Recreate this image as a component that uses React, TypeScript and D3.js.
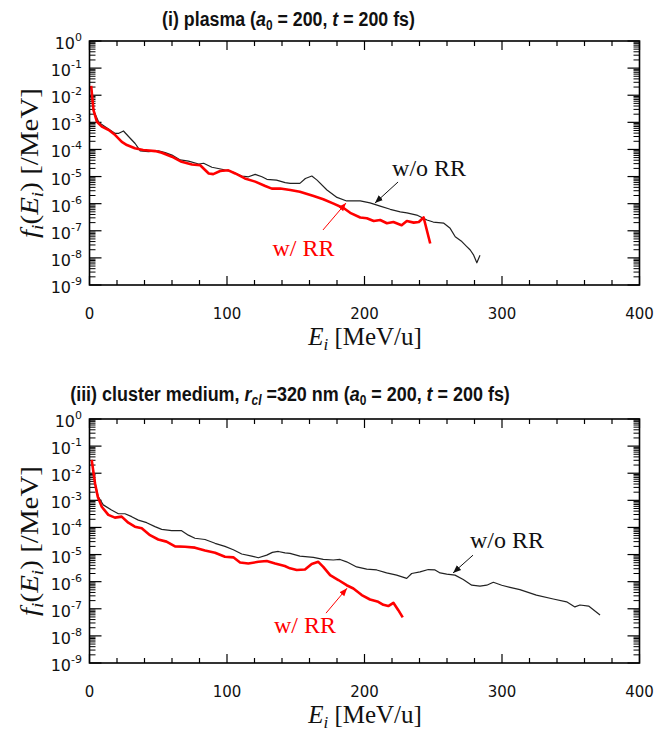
import React, { useLayoutEffect, useRef, useState } from 'react';
import * as d3 from 'd3';

// ---------- data ----------
const xTickValues = [0, 100, 200, 300, 400];
const xMinorStep = 20;
const yExponents = [0, -1, -2, -3, -4, -5, -6, -7, -8, -9];

// Panel (i) plasma
const plasmaWoRR_E = [1.2, 2.9, 6.8, 11.4, 18.7, 21, 24.7, 28.4, 33.2, 36.9, 42.9, 50.2, 55, 60, 66, 72, 79.4, 83, 89, 96.3, 103.6, 110.8, 115.6, 120.5, 125.4, 129, 136, 142.3, 146, 153, 157, 161.7, 165.5, 172.7, 180, 187, 196.9, 204, 211.4, 218.7, 226, 230.8, 238, 245.4, 250, 257.7, 262.3, 266, 270.8, 274.4, 276.9, 279.4, 281.7, 284];
const plasmaWoRR_f = [2.2e-2, 2.8e-3, 9.8e-4, 6.9e-4, 3.9e-4, 3.9e-4, 4.8e-4, 3.0e-4, 1.66e-4, 8.9e-5, 8.3e-5, 8.9e-5, 7.6e-5, 6.2e-5, 4.1e-5, 3.7e-5, 2.9e-5, 3.1e-5, 2.2e-5, 1.86e-5, 1.5e-5, 1.05e-5, 9.8e-6, 1.2e-5, 9.8e-6, 7.9e-6, 7.4e-6, 6.0e-6, 5.6e-6, 5.6e-6, 8.5e-6, 1.05e-5, 7.4e-6, 3.2e-6, 1.7e-6, 1.26e-6, 1.26e-6, 1.07e-6, 8.1e-7, 6.2e-7, 5.0e-7, 4.6e-7, 3.8e-7, 2.5e-7, 2.1e-7, 1.9e-7, 1.23e-7, 6.0e-8, 4.0e-8, 2.6e-8, 1.95e-8, 1.26e-8, 6.6e-9, 1.26e-8];
const plasmaWRR_E = [1.2, 2.9, 5.4, 9, 14, 18.7, 23.5, 27.2, 33, 39, 47.8, 52.6, 59.9, 67, 74.5, 80.5, 86.7, 90, 95, 101, 106, 113, 120.5, 127.8, 132.6, 138.7, 146, 153, 163, 170, 177.5, 185, 189.6, 196.9, 201.7, 206.7, 211.4, 216.3, 221, 227, 230.8, 235.8, 239.5, 243, 247.8];
const plasmaWRR_f = [2.2e-2, 2.8e-3, 1.05e-3, 6.9e-4, 5.2e-4, 3.4e-4, 1.9e-4, 1.45e-4, 1.1e-4, 9.5e-5, 8.7e-5, 7.6e-5, 5.4e-5, 3.5e-5, 2.8e-5, 2.6e-5, 1.3e-5, 1.23e-5, 1.6e-5, 1.7e-5, 1.3e-5, 8.5e-6, 6.5e-6, 4.5e-6, 3.6e-6, 3.6e-6, 3.2e-6, 2.75e-6, 1.9e-6, 1.45e-6, 1.0e-6, 6.8e-7, 4.6e-7, 3.1e-7, 2.9e-7, 2.3e-7, 2.5e-7, 1.9e-7, 2.1e-7, 1.6e-7, 2.3e-7, 2.0e-7, 2.1e-7, 3.1e-7, 3.4e-8];

// Panel (iii) cluster medium
const clusterWoRR_E = [1.6, 4, 6.4, 10, 16, 21, 25.8, 30.7, 35.5, 41.6, 47.6, 52.5, 59.8, 67, 71.9, 76.7, 84, 91.3, 98.5, 104.6, 110.7, 118, 122.8, 128.9, 133, 137.3, 142.2, 145.8, 153, 162.8, 170, 177.3, 182.2, 187, 194.3, 201.6, 208.9, 216.1, 223.4, 230.7, 234.3, 240.4, 246.4, 251.3, 255, 259.8, 265.8, 271.8, 278, 284, 288.9, 293.7, 299.8, 305.8, 313, 325, 337.3, 347, 353, 356.7, 363, 371.3];
const clusterWoRR_f = [3.1e-2, 4.3e-3, 1.35e-3, 6.8e-4, 4.4e-4, 3.2e-4, 3.2e-4, 2.5e-4, 1.86e-4, 1.5e-4, 1.07e-4, 8.5e-5, 7.6e-5, 7.6e-5, 5.2e-5, 4.0e-5, 3.6e-5, 2.6e-5, 2.0e-5, 1.5e-5, 1.05e-5, 8.7e-6, 7.6e-6, 9.5e-6, 1.2e-5, 1.3e-5, 1.15e-5, 1.1e-5, 8.7e-6, 7.9e-6, 6.6e-6, 6.3e-6, 6.6e-6, 5.4e-6, 3.5e-6, 2.9e-6, 2.7e-6, 2.1e-6, 1.74e-6, 1.32e-6, 2.0e-6, 2.3e-6, 2.8e-6, 2.7e-6, 2.1e-6, 1.9e-6, 1.74e-6, 1.2e-6, 7.4e-7, 6.9e-7, 7.4e-7, 9.5e-7, 7.4e-7, 6.2e-7, 5.1e-7, 3.2e-7, 2.3e-7, 1.8e-7, 1.17e-7, 1.38e-7, 1.26e-7, 5.9e-8];
const clusterWRR_E = [1.6, 4, 6, 8.9, 13.7, 18.5, 23.4, 28.2, 33, 38, 44, 50, 56, 62.2, 69.5, 76.7, 84, 91.3, 98.5, 104.6, 109.5, 115.5, 122.8, 128.9, 135, 142, 145.8, 150.7, 156.7, 161.6, 166.4, 170, 175, 181, 187, 191.9, 198, 204, 210, 213.7, 217.3, 221, 224.6, 227.8];
const clusterWRR_f = [3.1e-2, 4.3e-3, 1.35e-3, 5.8e-4, 2.9e-4, 2.3e-4, 2.5e-4, 1.5e-4, 1.07e-4, 9.3e-5, 5.2e-5, 3.6e-5, 3.0e-5, 2.0e-5, 1.95e-5, 1.8e-5, 1.4e-5, 1.17e-5, 8.3e-6, 7.9e-6, 5.1e-6, 4.7e-6, 5.4e-6, 5.8e-6, 4.7e-6, 3.8e-6, 3.1e-6, 2.7e-6, 2.8e-6, 4.5e-6, 5.4e-6, 3.5e-6, 1.74e-6, 1.15e-6, 7.4e-7, 5.6e-7, 3.2e-7, 2.2e-7, 1.8e-7, 1.4e-7, 1.26e-7, 1.66e-7, 8.9e-8, 4.8e-8];

const seriesLabels = ['w/o RR', 'w/ RR'];

// ---------- layout ----------
const WIDTH = 656;
const HEIGHT = 733;
const PLOT_LEFT = 89.5;
const PLOT_RIGHT = 639.5;
const PLOT_HEIGHT = 244;

const SANS = "'DejaVu Sans', Verdana, sans-serif";
const SERIF = "'Liberation Serif', 'Times New Roman', serif";
const TITLE_FONT = "'Liberation Sans', Arial, sans-serif";

type Ann = {
  woText: [number, number];
  woArrow: [number, number, number, number];
  wText: [number, number];
  wArrow: [number, number, number, number];
};

function FitText(props: { x: number; y: number; width: number; children: React.ReactNode; [k: string]: any }) {
  const { x, y, width, children, ...rest } = props;
  const ref = useRef<SVGTextElement>(null);
  const [s, setS] = useState(1);
  useLayoutEffect(() => {
    if (ref.current) {
      const w = ref.current.getBBox().width;
      if (w > 0) setS(width / w);
    }
  }, [width]);
  return (
    <g transform={`translate(${x},${y}) scale(${s},1)`}>
      <text ref={ref} x={0} y={0} textAnchor="middle" {...rest}>{children}</text>
    </g>
  );
}

function Panel(props: {
  top: number;
  woE: number[]; woF: number[];
  wE: number[]; wF: number[];
  ann: Ann;
  title: React.ReactNode;
  titleX: number; titleLen: number; titleY: number;
}) {
  const { top, woE, woF, wE, wF, ann } = props;
  const bottom = top + PLOT_HEIGHT;
  const x = d3.scaleLinear().domain([0, 400]).range([PLOT_LEFT, PLOT_RIGHT]);
  const y = d3.scaleLog().domain([1e-9, 1]).range([bottom, top]);

  const line = d3.line<[number, number]>().x(d => x(d[0])).y(d => y(d[1]));
  const woPts = woE.map((e, i) => [e, woF[i]] as [number, number]);
  const wPts = wE.map((e, i) => [e, wF[i]] as [number, number]);

  const xMinor = d3.range(0, 401, xMinorStep).filter(v => v % 100 !== 0);
  const yMinor: number[] = [];
  for (let k = 1; k <= 9; k++) {
    for (let m = 2; m <= 9; m++) yMinor.push(m * Math.pow(10, -k));
  }

  const MAJ_X = 9, MIN_X = 5, MAJ_Y = 12, MIN_Y = 6;

  return (
    <g>
      <FitText x={props.titleX} y={props.titleY} width={props.titleLen} fontFamily={TITLE_FONT}
        fontWeight="bold" fontSize={21} fill="#111">
        {props.title}
      </FitText>
      {/* x ticks */}
      {xTickValues.map(v => (
        <g key={'xM' + v}>
          <line x1={x(v)} x2={x(v)} y1={bottom} y2={bottom - MAJ_X} stroke="#000" strokeWidth={1.2} />
          <line x1={x(v)} x2={x(v)} y1={top} y2={top + MAJ_X} stroke="#000" strokeWidth={1.2} />
          <text x={x(v)} y={bottom + 34} textAnchor="middle" fontFamily={SANS} fontSize={15} fill="#111">{v}</text>
        </g>
      ))}
      {xMinor.map(v => (
        <g key={'xm' + v}>
          <line x1={x(v)} x2={x(v)} y1={bottom} y2={bottom - MIN_X} stroke="#000" strokeWidth={1.2} />
          <line x1={x(v)} x2={x(v)} y1={top} y2={top + MIN_X} stroke="#000" strokeWidth={1.2} />
        </g>
      ))}
      {/* y ticks */}
      {yExponents.map(e => {
        const yy = y(Math.pow(10, e));
        return (
          <g key={'yM' + e}>
            <line x1={PLOT_LEFT} x2={PLOT_LEFT + MAJ_Y} y1={yy} y2={yy} stroke="#000" strokeWidth={1.2} />
            <line x1={PLOT_RIGHT} x2={PLOT_RIGHT - MAJ_Y} y1={yy} y2={yy} stroke="#000" strokeWidth={1.2} />
            <text x={82} y={yy + 8} textAnchor="end" fontFamily={SANS} fontSize={16} fill="#111">
              10<tspan fontSize={11} dy={-8}>{e}</tspan>
            </text>
          </g>
        );
      })}
      {yMinor.map((v, i) => (
        <g key={'ym' + i}>
          <line x1={PLOT_LEFT} x2={PLOT_LEFT + MIN_Y} y1={y(v)} y2={y(v)} stroke="#000" strokeWidth={1} />
          <line x1={PLOT_RIGHT} x2={PLOT_RIGHT - MIN_Y} y1={y(v)} y2={y(v)} stroke="#000" strokeWidth={1} />
        </g>
      ))}
      {/* curves */}
      <path d={line(woPts) || ''} fill="none" stroke="#222" strokeWidth={1.2} strokeLinejoin="round" />
      <path d={line(wPts) || ''} fill="none" stroke="#ff0000" strokeWidth={2.6} strokeLinejoin="round" />
      {/* frame */}
      <rect x={PLOT_LEFT} y={top} width={PLOT_RIGHT - PLOT_LEFT} height={PLOT_HEIGHT} fill="none" stroke="#000" strokeWidth={1.6} />
      {/* annotations */}
      <text x={x(ann.woText[0])} y={y(ann.woText[1])} textAnchor="middle" fontFamily={SERIF} fontSize={24} fill="#111">{seriesLabels[0]}</text>
      <line x1={x(ann.woArrow[0])} y1={y(ann.woArrow[1])} x2={x(ann.woArrow[2])} y2={y(ann.woArrow[3])}
        stroke="#111" strokeWidth={1} markerEnd="url(#ahK)" />
      <text x={x(ann.wText[0])} y={y(ann.wText[1])} textAnchor="middle" fontFamily={SERIF} fontSize={24} fill="#ff0000">{seriesLabels[1]}</text>
      <line x1={x(ann.wArrow[0])} y1={y(ann.wArrow[1])} x2={x(ann.wArrow[2])} y2={y(ann.wArrow[3])}
        stroke="#ff0000" strokeWidth={1} markerEnd="url(#ahR)" />
      {/* axis labels */}
      <text x={365} y={bottom + 60} textAnchor="middle" fontFamily={SERIF} fontSize={25} fill="#111">
        <tspan fontStyle="italic">E</tspan><tspan fontStyle="italic" fontSize={17} dy={5}>i</tspan><tspan dy={-5}> [MeV/u]</tspan>
      </text>
      <text transform={`translate(38,${top + PLOT_HEIGHT / 2}) rotate(-90)`} textAnchor="middle" fontFamily={SERIF}
        fontSize={25} fill="#111" textLength={150} lengthAdjust="spacingAndGlyphs">
        <tspan fontStyle="italic">f</tspan><tspan fontStyle="italic" fontSize={17} dy={5}>i</tspan><tspan dy={-5}>(</tspan><tspan fontStyle="italic">E</tspan><tspan fontStyle="italic" fontSize={17} dy={5}>i</tspan><tspan dy={-5}>) [/MeV]</tspan>
      </text>
    </g>
  );
}

export default function App() {
  const annTop: Ann = {
    woText: [247, 1.05e-5],
    woArrow: [224.4, 6.3e-6, 207.6, 1.05e-6],
    wText: [155.6, 1.2e-8],
    wArrow: [169.8, 1.07e-7, 186.5, 1.05e-6],
  };
  const annBottom: Ann = {
    woText: [303.6, 1.74e-5],
    woArrow: [278.9, 9.5e-6, 264.4, 2.1e-6],
    wText: [156.7, 1.26e-8],
    wArrow: [172, 6.9e-8, 187.3, 5.75e-7],
  };
  return (
    <svg width={WIDTH} height={HEIGHT} style={{ position: 'absolute', left: 0, top: 0, background: '#fff' }}>
      <defs>
        <marker id="ahK" viewBox="0 0 10 10" refX="10" refY="5" markerWidth="8" markerHeight="8" orient="auto" markerUnits="userSpaceOnUse">
          <path d="M0,1 L10,5 L0,9 z" fill="#111" />
        </marker>
        <marker id="ahR" viewBox="0 0 10 10" refX="10" refY="5" markerWidth="8" markerHeight="8" orient="auto" markerUnits="userSpaceOnUse">
          <path d="M0,1 L10,5 L0,9 z" fill="#ff0000" />
        </marker>
      </defs>
      <rect x={0} y={0} width={WIDTH} height={HEIGHT} fill="#fff" />
      <Panel top={41} woE={plasmaWoRR_E} woF={plasmaWoRR_f} wE={plasmaWRR_E} wF={plasmaWRR_f} ann={annTop}
        titleX={288.5} titleLen={253} titleY={26}
        title={<>(i) plasma (<tspan fontStyle="italic">a</tspan><tspan fontSize={14} dy={4}>0</tspan><tspan dy={-4}> = 200, </tspan><tspan fontStyle="italic">t</tspan> = 200 fs)</>} />
      <Panel top={419} woE={clusterWoRR_E} woF={clusterWoRR_f} wE={clusterWRR_E} wF={clusterWRR_f} ann={annBottom}
        titleX={290} titleLen={440} titleY={401}
        title={<>(iii) cluster medium, <tspan fontStyle="italic">r</tspan><tspan fontStyle="italic" fontSize={14} dy={4}>cl</tspan><tspan dy={-4}> =320 nm (</tspan><tspan fontStyle="italic">a</tspan><tspan fontSize={14} dy={4}>0</tspan><tspan dy={-4}> = 200, </tspan><tspan fontStyle="italic">t</tspan> = 200 fs)</>} />
    </svg>
  );
}
